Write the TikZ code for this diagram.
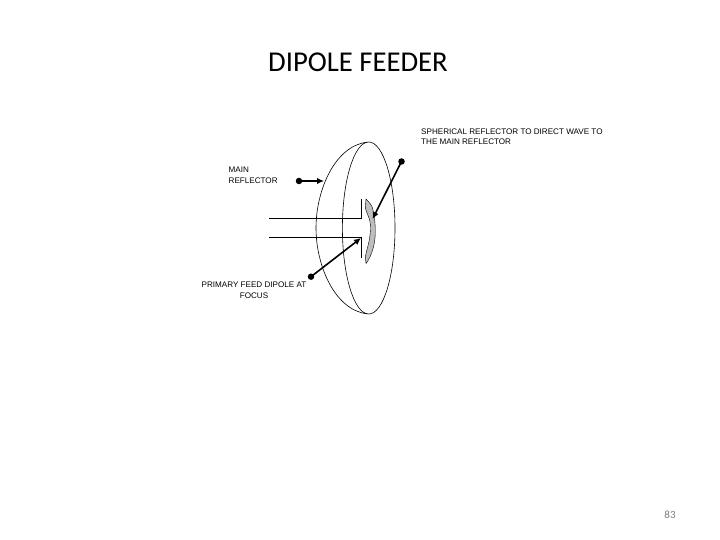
\documentclass[tikz,border=0pt]{standalone}
\usepackage{fontspec}
\setmainfont{Liberation Sans}
\newfontfamily\titlefont{Carlito}
\usetikzlibrary{arrows.meta}
\definecolor{Ink}{HTML}{000000}
\definecolor{Dish}{HTML}{BEBEBE}
\definecolor{PageNo}{HTML}{7F7F7F}
\tikzset{
  label text/.style={font=\fontsize{8.1}{10.5}\selectfont,text=Ink,inner sep=0pt,align=center},
  dot end/.style={circle,fill=Ink,inner sep=0pt,minimum size=6.5pt},
  pointer/.style={Ink,line width=1.6pt,-{Latex[length=7pt,width=6.5pt]},shorten <=-1pt}
}
\begin{document}
\begin{tikzpicture}[x=1pt,y=-1pt,every node/.style={text=Ink}]
\useasboundingbox (0,0) rectangle (720,540);
\fill[white] (0,0) rectangle (720,540);
\node[font=\titlefont\fontsize{28.7}{32}\selectfont] (title) at (358,62){DIPOLE FEEDER};
\node[font=\titlefont\fontsize{11}{13}\selectfont,text=PageNo] (pageno) at (670,515){83};
% dish
\draw[Ink,line width=.6pt] (368.7,228) ellipse[x radius=26.3,y radius=86];
\draw[Ink,line width=.6pt] (367,142.2) .. controls (335,146) and (316,190) .. (316,228) .. controls (316,266) and (335,310) .. (367,313.8);
% sub reflector
\draw[Ink,fill=Dish,line width=.4pt] (366,199) .. controls (370,203) and (372,206) .. (372.5,208) .. controls (375.5,220) and (376.5,235) .. (373.5,247) .. controls (371.5,254) and (369,260) .. (366,263.5)
  -- (365.3,257) .. controls (367,248) and (369.5,242) .. (370,235) .. controls (371,228) and (370.5,222) .. (369,218) .. controls (367.5,214) and (366,211) .. (365.3,208) -- cycle;
% feed
\draw[Ink,line width=.7pt] (269,218.3)--(361,218.3)--(361,199.5);
\draw[Ink,line width=.7pt] (269,237.3)--(361,237.3)--(361,258);
% labels
\node[label text,align=left,anchor=north west] (sphere) at (421,128.2){SPHERICAL REFLECTOR TO DIRECT WAVE TO\\THE MAIN REFLECTOR};
\node[label text,align=left,anchor=north west] (mainrefl) at (228.5,167){MAIN\\REFLECTOR};
\node[label text,anchor=north] (feedlabel) at (254,282){PRIMARY FEED DIPOLE AT\\FOCUS};
% pointers
\node[dot end] (dota) at (299,181){};
\coordinate (tipa) at (324,181);
\node[dot end] (dotb) at (401.5,161.5){};
\coordinate (tipb) at (372.5,219);
\node[dot end] (dotc) at (311,276.7){};
\coordinate (tipc) at (361,238);
\draw[pointer] (dota)--(tipa);
\draw[pointer] (dotb)--(tipb);
\draw[pointer] (dotc)--(tipc);
\end{tikzpicture}
\end{document}
